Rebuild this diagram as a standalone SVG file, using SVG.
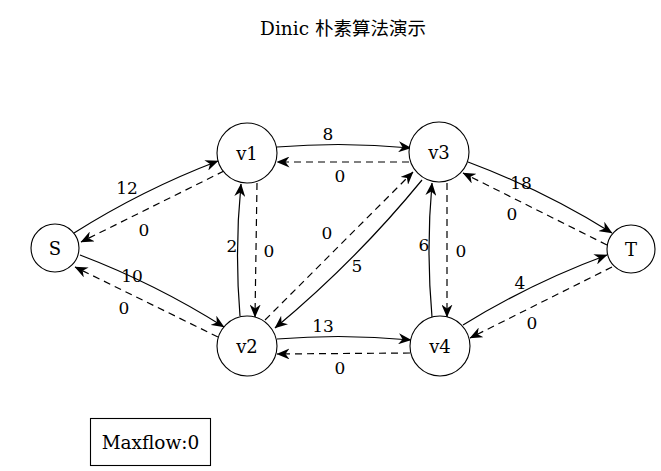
<svg xmlns="http://www.w3.org/2000/svg" width="661" height="471" viewBox="0 0 661 471">
<style>
text{font-family:"DejaVu Serif","Noto Sans CJK SC",serif;fill:#000}
.node circle{fill:#fff;stroke:#000;stroke-width:1.1}
.node text{font-size:18px;text-anchor:middle;dominant-baseline:central}
.e{fill:none;stroke:#000;stroke-width:1.2;marker-end:url(#ah)}
.d{stroke-dasharray:7,5}
.lbl{font-size:17px;text-anchor:middle;dominant-baseline:central}
</style>
<defs>
<marker id="ah" viewBox="0 0 13 11" refX="12.5" refY="5.5" markerWidth="13" markerHeight="11" markerUnits="userSpaceOnUse" orient="auto">
<path d="M0,0 L13,5.5 L0,11 L4,5.5 z" fill="#000"/>
</marker>
</defs>
<rect width="661" height="471" fill="#fff"/>
<text x="343" y="28" font-size="18.5" text-anchor="middle" dominant-baseline="central">Dinic 朴素算法演示</text>
<g id="edges">
<path class="e" d="M74,233 Q142.4,189.8 218,161"/>
<path class="e d" d="M224,171 L81,242"/>
<path class="e" d="M80,255 Q155.6,283.8 224,327"/>
<path class="e d" d="M218,337 L75,267"/>
<path class="e" d="M277,147 Q344,141.5 411,148"/>
<path class="e d" d="M409,162 L277,162"/>
<path class="e" d="M240,316 Q234.5,250 241,184"/>
<path class="e d" d="M257,183 L255,317"/>
<path class="e d" d="M265,320 L413,172"/>
<path class="e" d="M422,180 Q355.6,261.1 275,328"/>
<path class="e" d="M468,162 Q543.5,190.3 612,233"/>
<path class="e d" d="M607,245 L463,173"/>
<path class="e" d="M432,317 Q426,250 432,183"/>
<path class="e d" d="M447,183 L447,317"/>
<path class="e" d="M463,325 Q531.5,282.8 607,255"/>
<path class="e d" d="M612,267 L470,338"/>
<path class="e" d="M277,339 Q344,333.5 411,340"/>
<path class="e d" d="M410,353 L277,354"/>
<text class="lbl" x="127" y="188">12</text>
<text class="lbl" x="144" y="230">0</text>
<text class="lbl" x="132" y="276">10</text>
<text class="lbl" x="124" y="308">0</text>
<text class="lbl" x="328" y="134">8</text>
<text class="lbl" x="340" y="176">0</text>
<text class="lbl" x="232" y="246">2</text>
<text class="lbl" x="269" y="251">0</text>
<text class="lbl" x="327" y="233">0</text>
<text class="lbl" x="357" y="266">5</text>
<text class="lbl" x="521" y="183">18</text>
<text class="lbl" x="512" y="214">0</text>
<text class="lbl" x="424" y="245">6</text>
<text class="lbl" x="461" y="251">0</text>
<text class="lbl" x="520" y="283">4</text>
<text class="lbl" x="532" y="323">0</text>
<text class="lbl" x="323" y="326">13</text>
<text class="lbl" x="340" y="368">0</text>
</g>
<g id="S" class="node"><circle cx="55" cy="248" r="24"/><text x="55" y="248">S</text></g>
<g id="v1" class="node"><circle cx="247" cy="153" r="30"/><text x="247" y="153">v1</text></g>
<g id="v3" class="node"><circle cx="439" cy="152" r="30"/><text x="439" y="152">v3</text></g>
<g id="T" class="node"><circle cx="631" cy="249" r="24"/><text x="631" y="249">T</text></g>
<g id="v2" class="node"><circle cx="247" cy="346" r="30"/><text x="247" y="346">v2</text></g>
<g id="v4" class="node"><circle cx="440" cy="346" r="30"/><text x="440" y="346">v4</text></g>
<g id="maxflow"><rect x="90.5" y="418.5" width="120" height="47" fill="#fff" stroke="#000" stroke-width="1.1"/><text x="150.5" y="442" font-size="18.5" text-anchor="middle" dominant-baseline="central">Maxflow:0</text></g>
</svg>
